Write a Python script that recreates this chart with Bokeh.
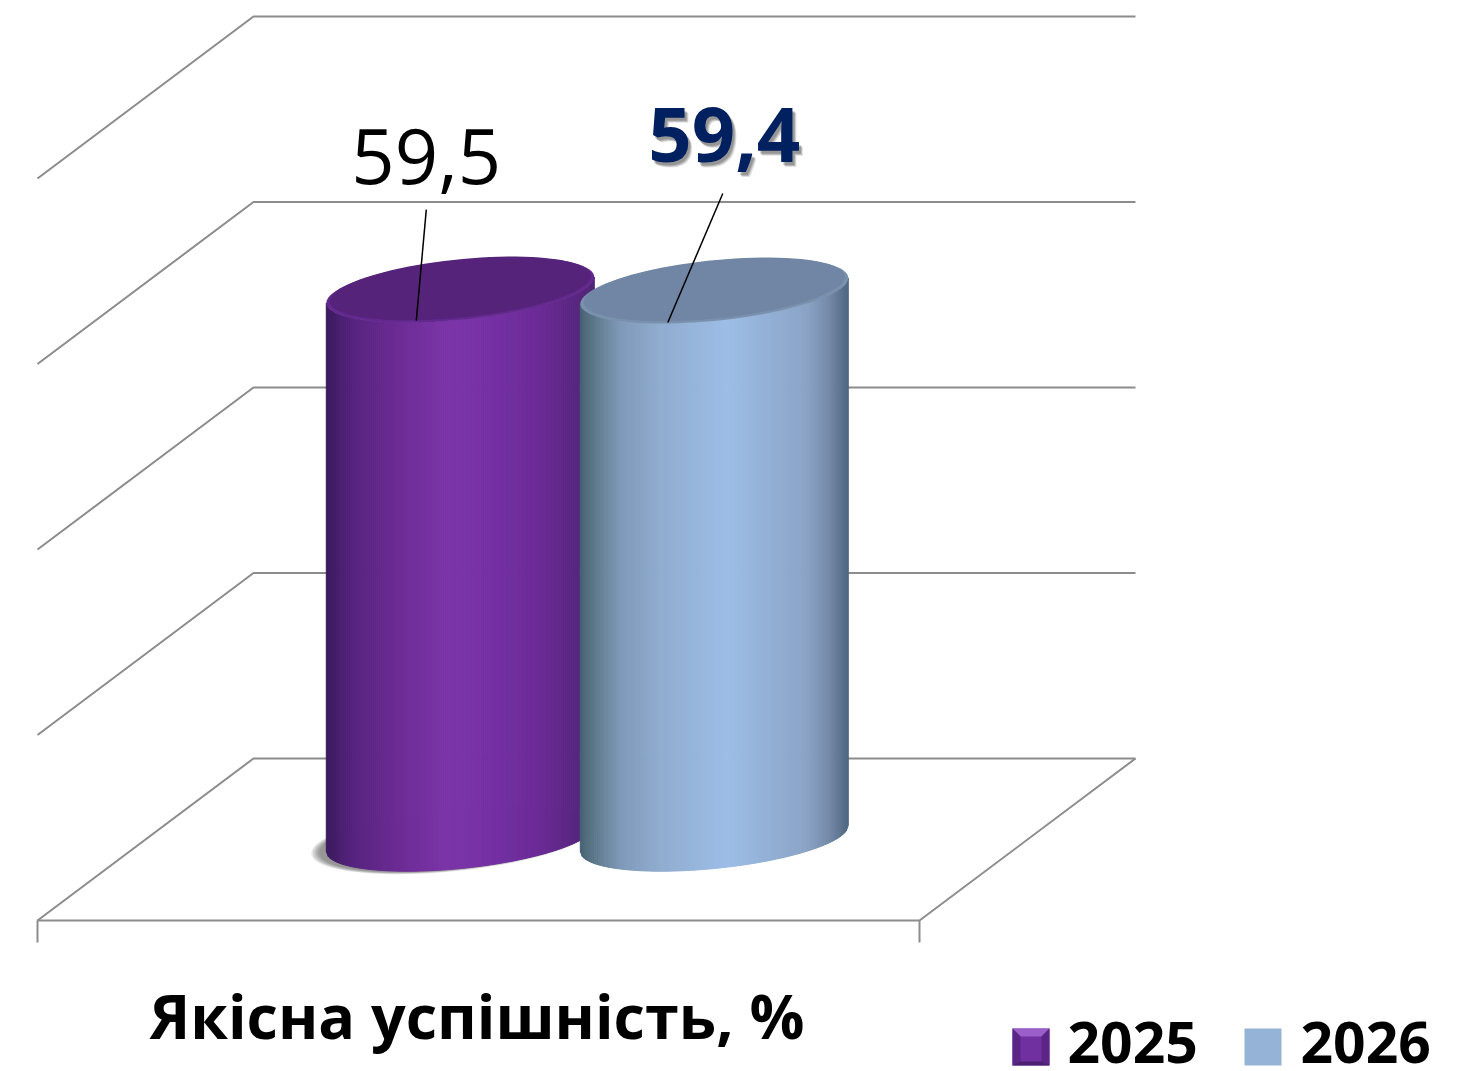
import numpy as np
from bokeh.plotting import figure
from bokeh.models import Range1d
from bokeh.core.properties import value
from bokeh.embed import file_html
from bokeh.resources import INLINE

# ---- data ----
category = "Якісна успішність, %"
series_names = ["2025", "2026"]
series_values = [59.5, 59.4]
value_labels = ["59,5", "59,4"]
grid_values = [0, 20, 40, 60, 80]

# ---- layout: one category unit = 882 px, one value unit = 9.275 px ----
W, H = 1471, 1071
PX_U, PX_V = 882.0, 9.275
LEFT_PX, FRONT_PX = 37.0, 920.0
DU = 216.0 / PX_U      # depth shift, category units
DV = 162.0 / PX_V      # depth shift, value units
def px(n): return n / PX_U
def py(n): return n / PX_V

x_rng = Range1d((0 - LEFT_PX) / PX_U, (W - LEFT_PX) / PX_U)
y_rng = Range1d((FRONT_PX - H) / PX_V, FRONT_PX / PX_V)

p = figure(width=W, height=H, x_range=x_rng, y_range=y_rng, output_backend="svg",
           toolbar_location=None, min_border=0, x_axis_type=None, y_axis_type=None,
           outline_line_color=None, background_fill_color="white", border_fill_color="white")
p.grid.visible = False

GRID = "#8c8c8c"
# walls and floor
for v in grid_values:
    p.line([0, DU, 1 + DU], [v, v + DV, v + DV], line_color=GRID, line_width=2)
p.line([0, 1, 1 + DU], [0, 0, DV], line_color=GRID, line_width=2)
TICK = py(22)
p.segment([0, 1], [0, 0], [0, 1], [-TICK, -TICK], line_color=GRID, line_width=2)

# cylinders
R = px(134); S = py(13); B = py(30)
DEPTH = 0.506
FORESHORTEN = 0.994
CENTERS = [0.5 - px(127) - px(0.5), 0.5 + px(127) - px(0.5)]

GRADS = [
    [(0, "#3b1a5e"), (.1, "#56247f"), (.25, "#6a2b92"), (.45, "#7b35a8"), (.6, "#7631a4"), (.8, "#6a2b96"), (1, "#4f2475")],
    [(0, "#465f73"), (.03, "#55707f"), (.15, "#7f99b8"), (.3, "#90accf"), (.55, "#9dbde6"), (.7, "#93b0d6"), (.85, "#8aa3c4"), (.93, "#758aa8"), (1, "#4f6680")],
]
RIMS = ["#64298f", "#7a91ae"]
CAPS = ["#55247a", "#7086a4"]

def grad(stops, f):
    fs = [s[0] for s in stops]
    rgb = [[int(s[1][i:i + 2], 16) for i in (1, 3, 5)] for s in stops]
    return "#%02x%02x%02x" % tuple(int(round(np.interp(f, fs, [c[k] for c in rgb]))) for k in range(3))

def ellipse(cu, cv, scale=1.0, n=90):
    t = np.linspace(0, 2 * np.pi, n)
    return (cu + scale * R * np.cos(t)), (cv + scale * (S * np.cos(t) + B * np.sin(t)))

# soft shadow under the first cylinder
cu0 = CENTERS[0] + DU * DEPTH
cv0 = DV * DEPTH
for k in range(6):
    ex, ey = ellipse(cu0 - px(7), cv0 - py(1), 1.0 + k * 0.012)
    p.patch(ex, ey, fill_color="#404040", fill_alpha=0.12, line_color=None)

for cu_front, val, stops, rim, cap in zip(CENTERS, series_values, GRADS, RIMS, CAPS):
    h = val * FORESHORTEN
    cu = cu_front + DU * DEPTH
    cv = DV * DEPTH
    edges = np.linspace(-1, 1, 135)
    xs, ys, cols = [], [], []
    for c0, c1 in zip(edges[:-1], edges[1:]):
        top0 = cv + h + S * c0 - B * np.sqrt(1 - c0 ** 2)
        top1 = cv + h + S * c1 - B * np.sqrt(1 - c1 ** 2)
        bot0 = cv + S * c0 - B * np.sqrt(1 - c0 ** 2)
        bot1 = cv + S * c1 - B * np.sqrt(1 - c1 ** 2)
        xs.append([cu + R * c0, cu + R * c1, cu + R * c1, cu + R * c0])
        ys.append([top0, top1, bot1, bot0])
        cols.append(grad(stops, (0.5 * (c0 + c1) + 1) / 2))
    p.patches(xs, ys, fill_color=cols, line_color=cols, line_width=1)
    ex, ey = ellipse(cu, cv + h)
    p.patch(ex, ey, fill_color=rim, line_color=None)
    ex, ey = ellipse(cu, cv + h + py(1.5), 0.975)
    p.patch(ex, ey, fill_color=cap, line_color=None)

# leaders and value labels
def top_pos(i):
    cu = CENTERS[i] + DU * DEPTH
    return cu, DV * DEPTH + series_values[i] * FORESHORTEN

LEADERS = [((-44, -30.6), (-34, 80.4)), ((-46.5, -31.6), (8.5, 97.4))]
for i, ((a, b), (c, d)) in enumerate(LEADERS):
    cu, cv = top_pos(i)
    p.line([cu + px(a), cu + px(c)], [cv + py(b), cv + py(d)], line_color="black", line_width=1.5)

DIGIT = value("Open Sans")
cu, cv = top_pos(0)
p.text([cu + px(-34)], [cv + py(134)], text=[value_labels[0]], text_font=DIGIT, text_font_size="76px",
       text_color="black", text_align="center", text_baseline="alphabetic")
cu, cv = top_pos(1)
for ox, oy, al in [(4, -5, .12), (3, -4, .18), (2, -3, .18)]:
    p.text([cu + px(10 + ox)], [cv + py(156 + oy)], text=[value_labels[1]], text_font=DIGIT, text_font_size="76px",
           text_font_style="bold", text_color="black", text_alpha=al, text_align="center", text_baseline="alphabetic")
p.text([cu + px(10)], [cv + py(156)], text=[value_labels[1]], text_font=DIGIT, text_font_size="76px", text_font_style="bold",
       text_color="#002060", text_align="center", text_baseline="alphabetic")

# category label
p.text([0.5 - px(-0.5 + 2)], [py(-95)], text=[category], text_font=value("Open Sans"), text_font_size="61px",
       text_font_style="bold", text_color="black", text_align="center", text_baseline="alphabetic")

# legend
SW = 37
LEG_BASE = py(-145)
LEG_TEXT = py(-122)
SW_LEFT = [px(975), px(1207)]
TXT_LEFT = [px(1030), px(1263)]
for x0, name, fill in zip(SW_LEFT, series_names, ["#7030a0", "#95b3d7"]):
    p.quad(left=[x0], right=[x0 + px(SW)], top=[LEG_BASE + py(SW)], bottom=[LEG_BASE], fill_color=fill, line_color=None)
x0 = SW_LEFT[0]; t = LEG_BASE + py(SW); b = LEG_BASE; w = px(SW); e = px(8); f = py(8)
p.patch([x0, x0 + w, x0 + w - e, x0 + e], [t, t, t - f, t - f], fill_color="#9a5fc9", line_color=None)
p.patch([x0, x0 + e, x0 + e, x0], [t, t - f, b + py(4), b], fill_color="#5a2585", line_color=None)
p.patch([x0 + w, x0 + w - e, x0 + w - e, x0 + w], [t, t - f, b + py(4), b], fill_color="#5a2585", line_color=None)
p.patch([x0, x0 + w, x0 + w - e, x0 + e], [b, b, b + py(4), b + py(4)], fill_color="#4b2070", line_color=None)
for x0, name in zip(TXT_LEFT, series_names):
    p.text([x0], [LEG_TEXT], text=[name], text_font=value("Open Sans"), text_font_size="57px",
           text_font_style="bold", text_color="black", text_align="left", text_baseline="alphabetic")

open("out.html", "w").write(file_html(p, INLINE))
